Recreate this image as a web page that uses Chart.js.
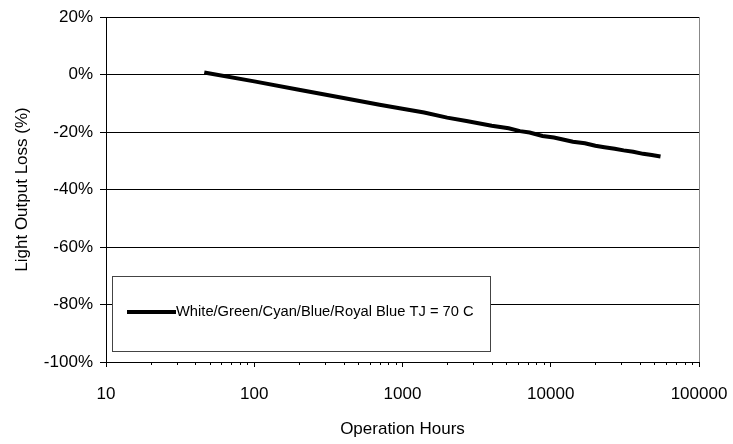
<!DOCTYPE html>
<html>
<head>
<meta charset="utf-8">
<script src="https://cdn.jsdelivr.net/npm/chart.js@4.4.0/dist/chart.umd.min.js"></script>
<style>
html,body{margin:0;padding:0;background:#fff;}
#wrap{width:733px;height:444px;}
</style>
</head>
<body>
<div id="wrap"><canvas id="myChart"></canvas></div>
<script>
// data
const hours=[46,100,200,400,700,1000,1400,2000,2700,4000,5200,6200,7200,8800,10500,12500,14100,17000,20000,23000,27000,31000,36000,42000,48000,55000];
const loss=[0.7,-2.4,-5.3,-8.2,-10.5,-11.9,-13.2,-15.0,-16.2,-17.8,-18.7,-19.7,-20.2,-21.4,-21.9,-22.8,-23.4,-23.9,-24.8,-25.3,-25.8,-26.4,-26.9,-27.6,-28.0,-28.5];
const xTicks=[10,100,1000,10000,100000];
const yTicks=[20,0,-20,-40,-60,-80,-100];
const seriesName="White/Green/Cyan/Blue/Royal Blue TJ = 70 C";

const fontName="'Liberation Sans', Arial, sans-serif";

// minor ticks, right border and the boxed legend
const extras={
  id:'extras',
  afterDraw(chart){
    const c=chart.ctx, xs=chart.scales.x, a=chart.chartArea;
    c.save();
    c.strokeStyle='#000';
    c.lineWidth=1;
    c.beginPath();
    for(let d=10;d<100000;d*=10){
      for(let k=2;k<10;k++){
        const px=Math.round(xs.getPixelForValue(d*k))+0.5;
        c.moveTo(px,a.bottom);
        c.lineTo(px,a.bottom+3);
      }
    }
    c.stroke();
    //right border
    c.strokeStyle='#888';
    c.beginPath();
    c.moveTo(Math.round(a.right)+0.5,a.top);
    c.lineTo(Math.round(a.right)+0.5,a.bottom);
    c.stroke();
    //legend
    const ds=chart.data.datasets[0];
    const bx=Math.round(a.left)+6, by=Math.round(a.top)+259, bw=378, bh=75;
    c.fillStyle='#fff';
    c.fillRect(bx,by,bw,bh);
    c.strokeStyle='#444';
    c.lineWidth=1;
    c.strokeRect(bx+0.5,by+0.5,bw,bh);
    c.strokeStyle=ds.borderColor;
    c.lineWidth=ds.borderWidth;
    c.beginPath();
    c.moveTo(bx+15,by+36);
    c.lineTo(bx+64,by+36);
    c.stroke();
    c.fillStyle='#000';
    c.font="14.7px "+fontName;
    c.textBaseline='middle';
    c.fillText(ds.label,bx+64,by+36);
    c.restore();
  }
};

const ctx=document.getElementById('myChart').getContext('2d');
const chart=new Chart(ctx,{
  type:'line',
  data:{
    datasets:[{
      label:seriesName,
      data:hours.map((h,i)=>({x:h,y:loss[i]})),
      borderColor:'#000',
      borderWidth:4,
      pointRadius:0,
      fill:false,
      tension:0
    }]
  },
  options:{
    responsive:true,
    maintainAspectRatio:false,
    animation:false,
    layout:{padding:{left:0,right:34,top:17,bottom:0}},
    plugins:{legend:{display:false},tooltip:{enabled:false}},
    scales:{
      x:{
        type:'logarithmic',
        min:10,max:100000,
        afterBuildTicks(s){s.ticks=xTicks.map(v=>({value:v}));},
        afterFit(s){s.height=82;s.paddingLeft=0;s.paddingRight=0;},
        grid:{drawOnChartArea:false,color:'#000',tickLength:5},
        border:{color:'#000',width:1},
        ticks:{color:'#000',font:{family:fontName,size:17},padding:17,autoSkip:false,maxRotation:0,
          callback:(v)=>String(v)},
        title:{display:true,text:'Operation Hours',color:'#000',font:{family:fontName,size:17},padding:{top:4,bottom:4}}
      },
      y:{
        min:-100,max:20,
        afterBuildTicks(s){s.ticks=yTicks.map(v=>({value:v}));},
        afterFit(s){s.width=106;s.paddingTop=0;s.paddingBottom=0;},
        grid:{color:'#000',lineWidth:1,tickLength:6},
        border:{color:'#000',width:1},
        ticks:{color:'#000',font:{family:fontName,size:17},padding:7,callback:(v)=>v+'%'},
        title:{display:true,text:'Light Output Loss (%)',color:'#000',font:{family:fontName,size:17},padding:{top:12,bottom:4}}
      }
    }
  },
  plugins:[extras]
});
</script>
</body>
</html>
